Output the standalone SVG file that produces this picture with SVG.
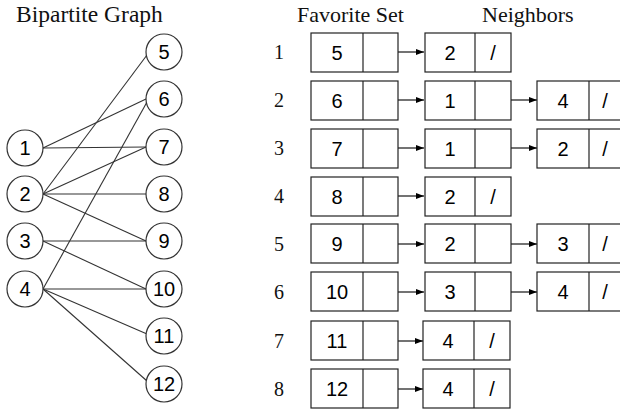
<svg xmlns="http://www.w3.org/2000/svg" width="620" height="410" viewBox="0 0 620 410">
<defs>
<marker id="ah" markerWidth="8" markerHeight="6" refX="8" refY="3" orient="auto" markerUnits="userSpaceOnUse">
<path d="M0,0 L8,3 L0,6 Z" fill="#000"/>
</marker>
</defs>
<style>
.t{font-family:"Liberation Serif","Times New Roman",serif;font-size:22px;fill:#111}
.rn{font-family:"Liberation Serif","Times New Roman",serif;font-size:20px;fill:#111;text-anchor:middle;dominant-baseline:central}
.n{font-family:"Liberation Sans",Arial,sans-serif;font-size:20px;fill:#000;text-anchor:middle;dominant-baseline:central}
.c{fill:#fff;stroke:#333;stroke-width:1.2}
.b{fill:#fff;stroke:#222;stroke-width:1.2}
.e{stroke:#333;stroke-width:1.1;fill:none}
.a{stroke:#000;stroke-width:1.1;fill:none;marker-end:url(#ah)}
</style>
<rect width="620" height="410" fill="#fff"/>
<text class="t" x="16" y="22" style="font-size:23.5px">Bipartite Graph</text>
<text class="t" x="297" y="22">Favorite Set</text>
<text class="t" x="482" y="22">Neighbors</text>

<g id="edges">
<line class="e" x1="43" y1="148" x2="146" y2="99"/>
<line class="e" x1="43" y1="148" x2="146" y2="147"/>
<line class="e" x1="43" y1="194" x2="147" y2="55"/>
<line class="e" x1="43" y1="194" x2="146" y2="147"/>
<line class="e" x1="43" y1="194" x2="146" y2="194"/>
<line class="e" x1="43" y1="194" x2="146" y2="241"/>
<line class="e" x1="43" y1="241" x2="146" y2="241"/>
<line class="e" x1="43" y1="241" x2="146" y2="289"/>
<line class="e" x1="43" y1="289" x2="147" y2="102"/>
<line class="e" x1="43" y1="289" x2="146" y2="289"/>
<line class="e" x1="43" y1="289" x2="147" y2="334"/>
<line class="e" x1="43" y1="289" x2="147" y2="381"/>
</g>

<g id="u1"><circle class="c" cx="25" cy="148" r="18"/><text class="n" x="25" y="148">1</text></g>
<g id="u2"><circle class="c" cx="25" cy="194" r="18"/><text class="n" x="25" y="194">2</text></g>
<g id="u3"><circle class="c" cx="25" cy="241" r="18"/><text class="n" x="25" y="241">3</text></g>
<g id="u4"><circle class="c" cx="25" cy="289" r="18"/><text class="n" x="25" y="289">4</text></g>
<g id="v5"><circle class="c" cx="164" cy="52" r="18"/><text class="n" x="164" y="52">5</text></g>
<g id="v6"><circle class="c" cx="164" cy="99" r="18"/><text class="n" x="164" y="99">6</text></g>
<g id="v7"><circle class="c" cx="164" cy="147" r="18"/><text class="n" x="164" y="147">7</text></g>
<g id="v8"><circle class="c" cx="164" cy="194" r="18"/><text class="n" x="164" y="194">8</text></g>
<g id="v9"><circle class="c" cx="164" cy="241" r="18"/><text class="n" x="164" y="241">9</text></g>
<g id="v10"><circle class="c" cx="164" cy="289" r="18"/><text class="n" x="164" y="289">10</text></g>
<g id="v11"><circle class="c" cx="164" cy="336" r="18"/><text class="n" x="164" y="336">11</text></g>
<g id="v12"><circle class="c" cx="164" cy="384" r="18"/><text class="n" x="164" y="384">12</text></g>

<g id="arrows">
<line class="a" x1="398" y1="52" x2="424" y2="52"/>
<line class="a" x1="398" y1="100" x2="424" y2="100"/>
<line class="a" x1="398" y1="148" x2="424" y2="148"/>
<line class="a" x1="398" y1="196" x2="424" y2="196"/>
<line class="a" x1="398" y1="244" x2="424" y2="244"/>
<line class="a" x1="398" y1="292" x2="424" y2="292"/>
<line class="a" x1="398" y1="341" x2="423" y2="341"/>
<line class="a" x1="398" y1="389" x2="423" y2="389"/>
<line class="a" x1="511" y1="100" x2="537" y2="100"/>
<line class="a" x1="511" y1="148" x2="537" y2="148"/>
<line class="a" x1="511" y1="244" x2="537" y2="244"/>
<line class="a" x1="511" y1="292" x2="537" y2="292"/>
</g>

<g id="row1">
<text class="rn" x="279" y="52">1</text>
<rect class="b" x="311" y="33" width="87" height="39"/><line class="b" x1="363" y1="33" x2="363" y2="72"/><text class="n" x="337" y="53">5</text>
<rect class="b" x="425" y="33" width="86" height="39"/><line class="b" x1="475" y1="33" x2="475" y2="72"/><text class="n" x="450" y="53">2</text><text class="n" x="493" y="53">/</text>
</g>
<g id="row2">
<text class="rn" x="279" y="100">2</text>
<rect class="b" x="311" y="81" width="87" height="39"/><line class="b" x1="363" y1="81" x2="363" y2="120"/><text class="n" x="337" y="101">6</text>
<rect class="b" x="425" y="81" width="86" height="39"/><line class="b" x1="475" y1="81" x2="475" y2="120"/><text class="n" x="450" y="101">1</text>
<rect class="b" x="537" y="81" width="88" height="39"/><line class="b" x1="589" y1="81" x2="589" y2="120"/><text class="n" x="563" y="101">4</text><text class="n" x="605" y="101">/</text>
</g>
<g id="row3">
<text class="rn" x="279" y="148">3</text>
<rect class="b" x="311" y="129" width="87" height="39"/><line class="b" x1="363" y1="129" x2="363" y2="168"/><text class="n" x="337" y="149">7</text>
<rect class="b" x="425" y="129" width="86" height="39"/><line class="b" x1="475" y1="129" x2="475" y2="168"/><text class="n" x="450" y="149">1</text>
<rect class="b" x="537" y="129" width="88" height="39"/><line class="b" x1="589" y1="129" x2="589" y2="168"/><text class="n" x="563" y="149">2</text><text class="n" x="605" y="149">/</text>
</g>
<g id="row4">
<text class="rn" x="279" y="196">4</text>
<rect class="b" x="311" y="177" width="87" height="39"/><line class="b" x1="363" y1="177" x2="363" y2="216"/><text class="n" x="337" y="197">8</text>
<rect class="b" x="425" y="177" width="86" height="39"/><line class="b" x1="475" y1="177" x2="475" y2="216"/><text class="n" x="450" y="197">2</text><text class="n" x="493" y="197">/</text>
</g>
<g id="row5">
<text class="rn" x="279" y="244">5</text>
<rect class="b" x="311" y="224" width="87" height="39"/><line class="b" x1="363" y1="224" x2="363" y2="263"/><text class="n" x="337" y="244">9</text>
<rect class="b" x="425" y="224" width="86" height="39"/><line class="b" x1="475" y1="224" x2="475" y2="263"/><text class="n" x="450" y="244">2</text>
<rect class="b" x="537" y="224" width="88" height="39"/><line class="b" x1="589" y1="224" x2="589" y2="263"/><text class="n" x="563" y="244">3</text><text class="n" x="605" y="244">/</text>
</g>
<g id="row6">
<text class="rn" x="279" y="292">6</text>
<rect class="b" x="311" y="272" width="87" height="39"/><line class="b" x1="363" y1="272" x2="363" y2="311"/><text class="n" x="337" y="292">10</text>
<rect class="b" x="425" y="272" width="86" height="39"/><line class="b" x1="475" y1="272" x2="475" y2="311"/><text class="n" x="450" y="292">3</text>
<rect class="b" x="537" y="272" width="88" height="39"/><line class="b" x1="589" y1="272" x2="589" y2="311"/><text class="n" x="563" y="292">4</text><text class="n" x="605" y="292">/</text>
</g>
<g id="row7">
<text class="rn" x="279" y="341">7</text>
<rect class="b" x="311" y="321" width="87" height="39"/><line class="b" x1="363" y1="321" x2="363" y2="360"/><text class="n" x="337" y="341">11</text>
<rect class="b" x="423" y="321" width="87" height="39"/><line class="b" x1="474" y1="321" x2="474" y2="360"/><text class="n" x="448" y="341">4</text><text class="n" x="492" y="341">/</text>
</g>
<g id="row8">
<text class="rn" x="279" y="389">8</text>
<rect class="b" x="311" y="369" width="87" height="39"/><line class="b" x1="363" y1="369" x2="363" y2="408"/><text class="n" x="337" y="389">12</text>
<rect class="b" x="423" y="369" width="87" height="39"/><line class="b" x1="474" y1="369" x2="474" y2="408"/><text class="n" x="448" y="389">4</text><text class="n" x="492" y="389">/</text>
</g>
</svg>
